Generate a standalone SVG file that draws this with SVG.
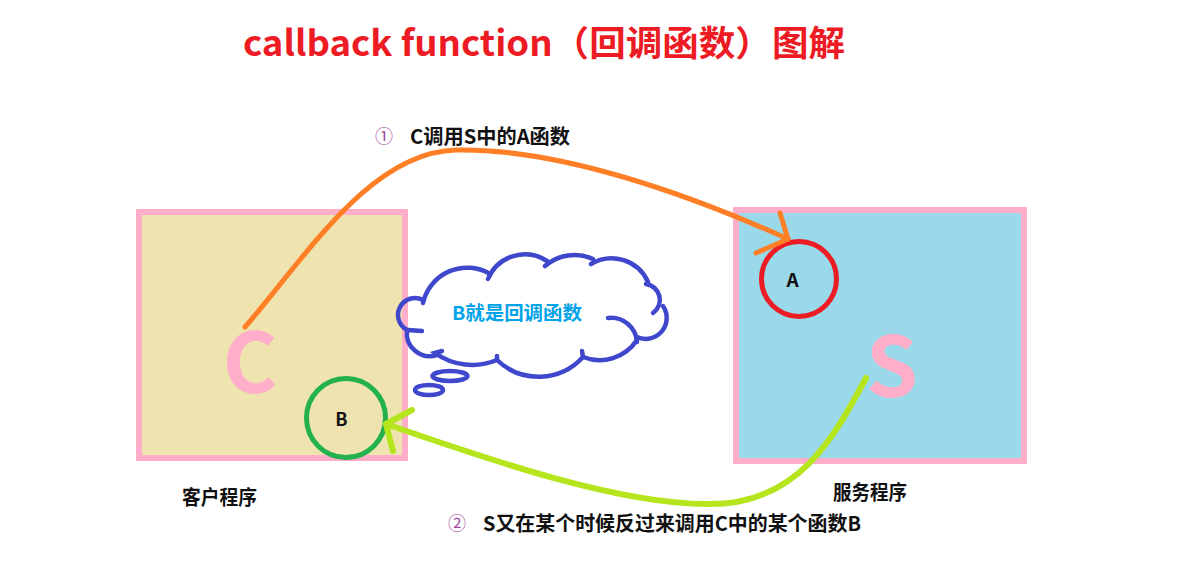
<svg xmlns="http://www.w3.org/2000/svg" width="1203" height="585" viewBox="0 0 1203 585">
<style>
text{font-family:"Noto Sans CJK SC","Noto Sans",sans-serif;font-weight:bold}
.box{stroke:#FFAEC9;stroke-width:6}
.big{fill:#FFAEC9;font-size:84px;text-anchor:middle}
.lbl{fill:#111;font-size:20px}
.num{fill:#A349A4;font-size:18px;font-weight:normal}
.cl{fill:none;stroke:#3F48CC;stroke-width:4.5;stroke-linecap:round}
.ln{fill:none;stroke-linecap:round;stroke-linejoin:round}
</style>
<rect width="1203" height="585" fill="#fff"/>
<text x="243" y="56" font-size="35" fill="#ED1C24" textLength="602" lengthAdjust="spacingAndGlyphs">callback function（回调函数）图解</text>

<g id="node-client">
<rect class="box" x="139" y="212" width="266" height="246" fill="#EFE4B0"/>
<text class="big" x="250" y="393">C</text>
<text class="lbl" x="182" y="505" font-size="18" textLength="75" lengthAdjust="spacingAndGlyphs">客户程序</text>
</g>
<g id="node-server">
<rect class="box" x="736" y="210" width="288" height="251" fill="#99D9EA"/>
<text class="big" x="892" y="397">S</text>
<text class="lbl" x="833" y="500" font-size="18" textLength="74" lengthAdjust="spacingAndGlyphs">服务程序</text>
</g>
<g id="node-A">
<circle cx="799" cy="279" r="37.5" fill="none" stroke="#ED1C24" stroke-width="5"/>
<text x="792.5" y="287" font-size="19" text-anchor="middle" fill="#111">A</text>
</g>
<g id="node-B">
<circle cx="346" cy="418" r="39.5" fill="none" stroke="#22B14C" stroke-width="5"/>
<text x="341.5" y="426" font-size="18" text-anchor="middle" fill="#111">B</text>
</g>

<g id="cloud">
<path class="cl" d="M423,303 A45,45 0 0 1 490,274"/>
<path class="cl" d="M488,279 A40,40 0 0 1 547,261"/>
<path class="cl" d="M545,266 A45,45 0 0 1 593,259"/>
<path class="cl" d="M591,264 A40,40 0 0 1 648,282"/>
<path class="cl" d="M646,284 A16,16 0 0 1 653,313"/>
<path class="cl" d="M663,306 A21,21 0 0 1 637,337"/>
<path class="cl" d="M608,318 A26,26 0 0 1 637,342"/>
<path class="cl" d="M637,340 A45,45 0 0 1 583,357 L582,351"/>
<path class="cl" d="M583,357 A60,60 0 0 1 497,360 L497,356"/>
<path class="cl" d="M497,360 A64,64 0 0 1 435,353 L442,351"/>
<path class="cl" d="M437,355 A23,23 0 0 1 407,330 L422,331"/>
<path class="cl" d="M407,330 A17,17 0 0 1 423,300"/>
<ellipse class="cl" cx="450" cy="376" rx="17.5" ry="5"/>
<ellipse class="cl" cx="429" cy="390" rx="14" ry="5"/>
<text x="452" y="320" font-size="19" fill="#00A2E8" textLength="130" lengthAdjust="spacingAndGlyphs">B就是回调函数</text>
</g>

<g id="connectors">
<path class="ln" stroke="#FF7F27" stroke-width="5" d="M245,327 C305,258 370,152 456,150 C560,148 690,195 788,239"/>
<path class="ln" stroke="#FF7F27" stroke-width="5" d="M780,213 L788,239 L756,253"/>
<path class="ln" stroke="#B5E61D" stroke-width="6" d="M866,378 C835,435 800,504 710,504 C620,505 490,460 386,424"/>
<path class="ln" stroke="#B5E61D" stroke-width="6" d="M412,410 L386,424 L393,451"/>
</g>

<g id="labels">
<text class="num" x="375" y="143">①</text>
<text class="lbl" x="410" y="144" textLength="160" lengthAdjust="spacingAndGlyphs">C调用S中的A函数</text>
<text class="num" x="448" y="530">②</text>
<text class="lbl" x="483" y="531" textLength="378" lengthAdjust="spacingAndGlyphs">S又在某个时候反过来调用C中的某个函数B</text>
</g>
</svg>
